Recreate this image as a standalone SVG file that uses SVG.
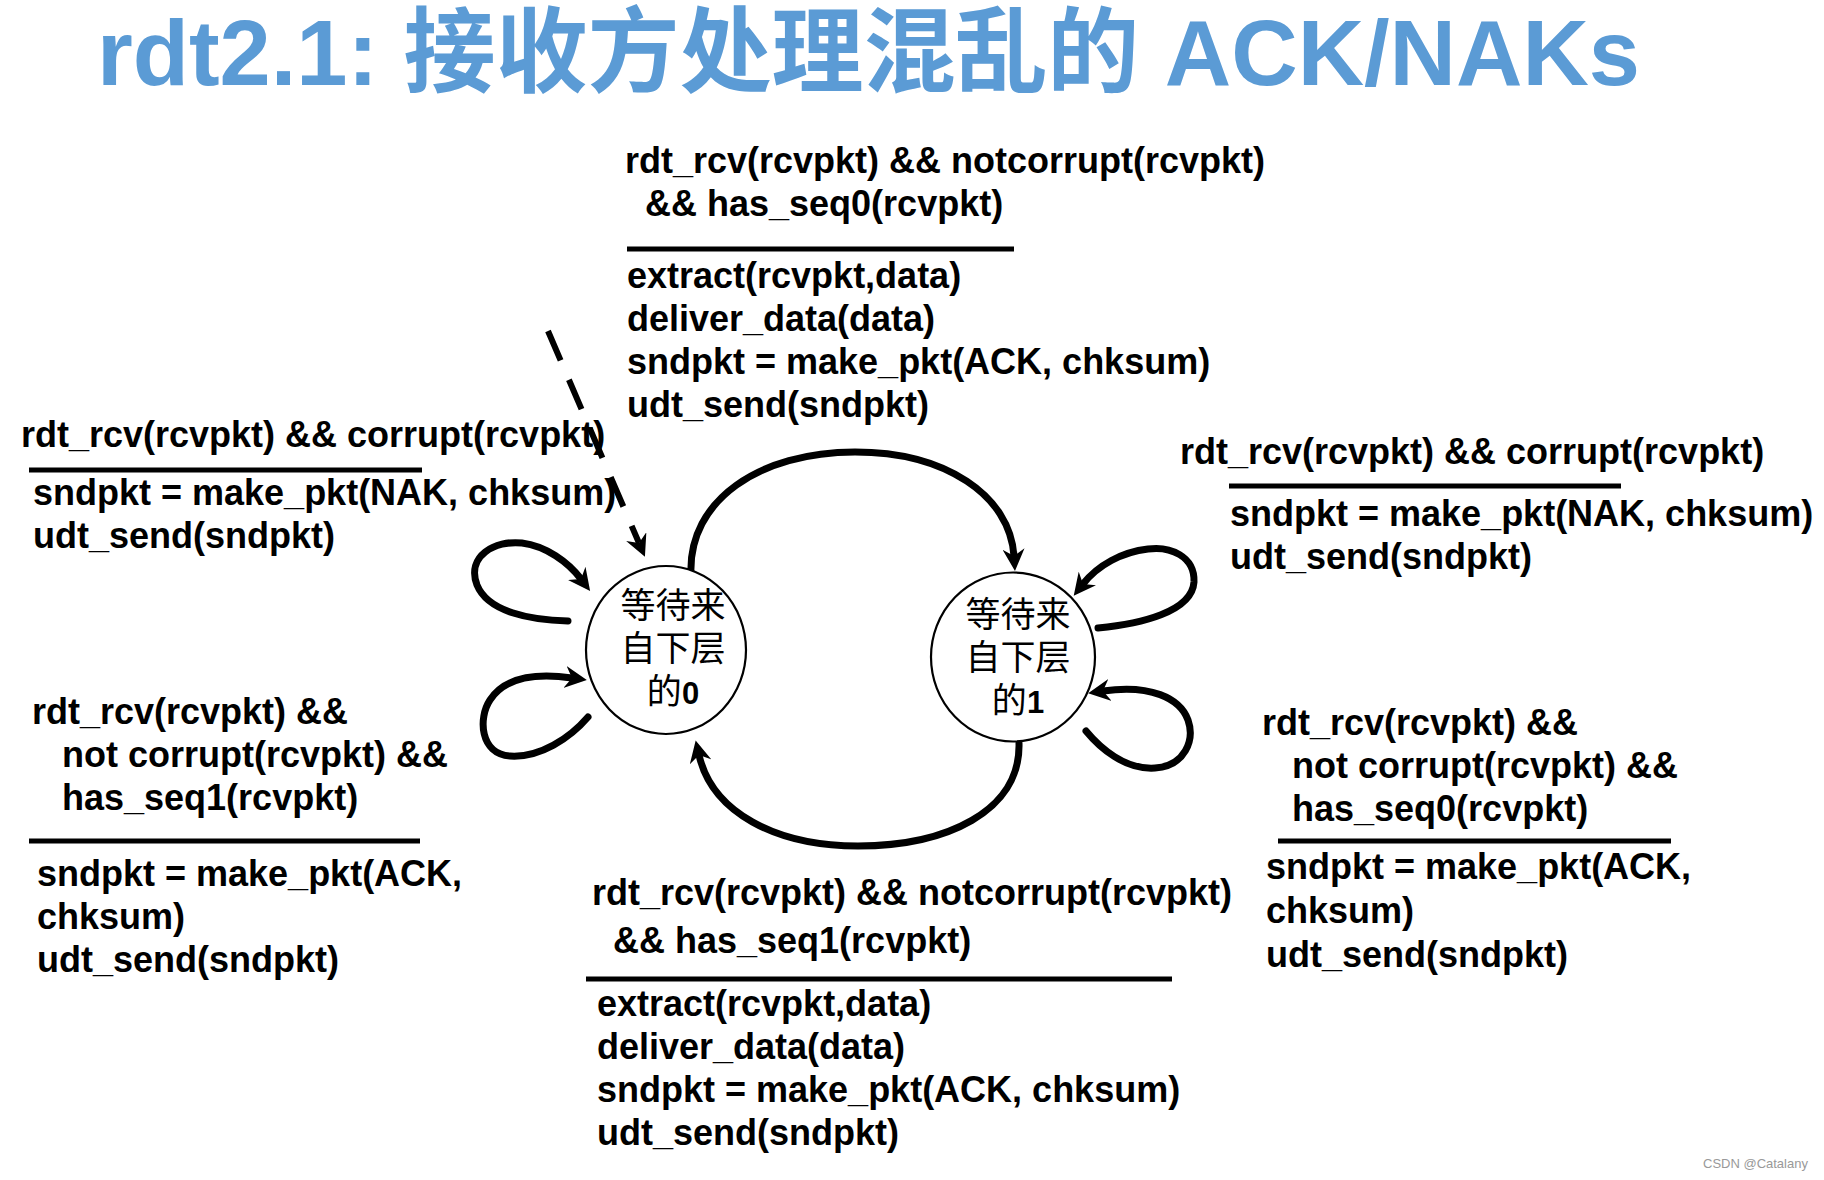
<svg xmlns="http://www.w3.org/2000/svg" width="1824" height="1180" viewBox="0 0 1824 1180">
  <style>
    .lbl { font-family: "Liberation Sans", Arial, sans-serif; font-weight: bold; font-size: 36px; fill: #000; }
    .sep { stroke: #000; stroke-width: 5; }
    .state { fill: #fff; stroke: #000; stroke-width: 2.2; }
    .cjk { font-family: "Noto Sans CJK SC", sans-serif; font-size: 35px; fill: #000; text-anchor: middle; }
    .num { font-family: "Liberation Sans", Arial, sans-serif; font-weight: bold; font-size: 31px; }
    .edge { fill: none; stroke: #000; stroke-width: 7; stroke-linecap: round; marker-end: url(#arr); }
    .dash { fill: none; stroke: #000; stroke-width: 6; stroke-dasharray: 32 21; marker-end: url(#arr); }
  </style>
  <defs>
    <marker id="arr" markerUnits="userSpaceOnUse" viewBox="0 0 22 22" markerWidth="22" markerHeight="22" refX="7" refY="11" orient="auto">
      <path d="M0,0 L22,11 L0,22 L7,11 Z" fill="#000"/>
    </marker>
  </defs>
  <rect width="1824" height="1180" fill="#fff"/>

  <text x="97" y="85" font-family="'Liberation Sans', 'Noto Sans CJK SC', sans-serif" font-weight="bold" font-size="93" fill="#5B9BD5" textLength="1543" lengthAdjust="spacingAndGlyphs">rdt2.1: 接收方处理混乱的 ACK/NAKs</text>

  <g id="connectors">
    <path id="init" class="dash" d="M548,331 L639,543"/>
    <path id="s0-s1" class="edge" d="M691,574 C688,500 760,452 855,452 C945,452 1010,495 1014,556"/>
    <path id="s1-s0" class="edge" d="M1019,743 C1021,812 945,846 858,846 C775,846 712,812 699,755"/>
    <path id="s0-loop-nak" class="edge" d="M568,621 C530,620 488,612 477,585 C466,556 495,540 522,543 C546,546 568,562 581,579"/>
    <path id="s0-loop-ack" class="edge" d="M588,717 C570,738 540,758 510,756 C480,754 478,718 490,700 C503,680 530,672 572,678"/>
    <path id="s1-loop-nak" class="edge" d="M1098,628 C1140,624 1192,612 1194,582 C1195,556 1170,546 1148,549 C1122,552 1098,565 1083,584"/>
    <path id="s1-loop-ack" class="edge" d="M1086,731 C1100,748 1125,770 1155,768 C1185,766 1195,740 1188,720 C1180,698 1150,684 1103,691"/>
  </g>

  <g id="state0">
    <ellipse class="state" cx="666" cy="650" rx="80" ry="84"/>
    <text class="cjk" x="673" y="618">等待来</text>
    <text class="cjk" x="673" y="661">自下层</text>
    <text class="cjk" x="673" y="704">的<tspan class="num">0</tspan></text>
  </g>

  <g id="state1">
    <ellipse class="state" cx="1013" cy="657" rx="82" ry="84.5"/>
    <text class="cjk" x="1018" y="627">等待来</text>
    <text class="cjk" x="1018" y="670">自下层</text>
    <text class="cjk" x="1018" y="713">的<tspan class="num">1</tspan></text>
  </g>

  <g id="label-top">
    <text class="lbl" x="625" y="173">rdt_rcv(rcvpkt) &amp;&amp; notcorrupt(rcvpkt)</text>
    <text class="lbl" x="645" y="216">&amp;&amp; has_seq0(rcvpkt)</text>
    <line class="sep" x1="627" y1="249" x2="1014" y2="249"/>
    <text class="lbl" x="627" y="288">extract(rcvpkt,data)</text>
    <text class="lbl" x="627" y="331">deliver_data(data)</text>
    <text class="lbl" x="627" y="374">sndpkt = make_pkt(ACK, chksum)</text>
    <text class="lbl" x="627" y="417">udt_send(sndpkt)</text>
  </g>

  <g id="label-left-top">
    <text class="lbl" x="21" y="447">rdt_rcv(rcvpkt) &amp;&amp; corrupt(rcvpkt)</text>
    <line class="sep" x1="29" y1="470" x2="422" y2="470"/>
    <text class="lbl" x="33" y="505">sndpkt = make_pkt(NAK, chksum)</text>
    <text class="lbl" x="33" y="548">udt_send(sndpkt)</text>
  </g>

  <g id="label-left-bottom">
    <text class="lbl" x="32" y="724">rdt_rcv(rcvpkt) &amp;&amp;</text>
    <text class="lbl" x="62" y="767">not corrupt(rcvpkt) &amp;&amp;</text>
    <text class="lbl" x="62" y="810">has_seq1(rcvpkt)</text>
    <line class="sep" x1="29" y1="841" x2="420" y2="841"/>
    <text class="lbl" x="37" y="886">sndpkt = make_pkt(ACK,</text>
    <text class="lbl" x="37" y="929">chksum)</text>
    <text class="lbl" x="37" y="972">udt_send(sndpkt)</text>
  </g>

  <g id="label-right-top">
    <text class="lbl" x="1180" y="464">rdt_rcv(rcvpkt) &amp;&amp; corrupt(rcvpkt)</text>
    <line class="sep" x1="1229" y1="486" x2="1621" y2="486"/>
    <text class="lbl" x="1230" y="526">sndpkt = make_pkt(NAK, chksum)</text>
    <text class="lbl" x="1230" y="569">udt_send(sndpkt)</text>
  </g>

  <g id="label-right-bottom">
    <text class="lbl" x="1262" y="735">rdt_rcv(rcvpkt) &amp;&amp;</text>
    <text class="lbl" x="1292" y="778">not corrupt(rcvpkt) &amp;&amp;</text>
    <text class="lbl" x="1292" y="821">has_seq0(rcvpkt)</text>
    <line class="sep" x1="1278" y1="841" x2="1671" y2="841"/>
    <text class="lbl" x="1266" y="879">sndpkt = make_pkt(ACK,</text>
    <text class="lbl" x="1266" y="923">chksum)</text>
    <text class="lbl" x="1266" y="967">udt_send(sndpkt)</text>
  </g>

  <g id="label-bottom">
    <text class="lbl" x="592" y="905">rdt_rcv(rcvpkt) &amp;&amp; notcorrupt(rcvpkt)</text>
    <text class="lbl" x="613" y="953">&amp;&amp; has_seq1(rcvpkt)</text>
    <line class="sep" x1="586" y1="979" x2="1172" y2="979"/>
    <text class="lbl" x="597" y="1016">extract(rcvpkt,data)</text>
    <text class="lbl" x="597" y="1059">deliver_data(data)</text>
    <text class="lbl" x="597" y="1102">sndpkt = make_pkt(ACK, chksum)</text>
    <text class="lbl" x="597" y="1145">udt_send(sndpkt)</text>
  </g>

  <text x="1703" y="1168" font-family="'Liberation Sans', Arial, sans-serif" font-size="13" fill="#999">CSDN @Catalany</text>
</svg>
